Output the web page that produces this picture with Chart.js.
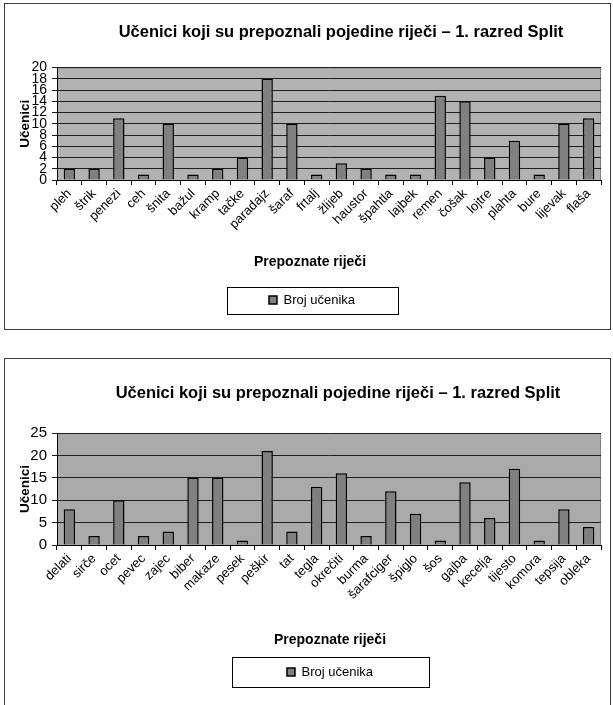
<!DOCTYPE html>
<html>
<head>
<meta charset="utf-8">
<script src="https://cdn.jsdelivr.net/npm/chart.js@4.4.1/dist/chart.umd.min.js"></script>
<style>
  html, body { margin: 0; padding: 0; background: #fff; }
  body { width: 613px; height: 705px; position: relative; overflow: hidden; }
  .frame { position: absolute; left: 4px; width: 607px; border: 1px solid #3c3c3c; box-sizing: border-box; background: #fff; }
  #f1 { top: 3px; height: 327px; }
  #f2 { top: 358px; height: 360px; }
  .frame canvas { display: block; }
</style>
</head>
<body>
<div class="frame" id="f1"><canvas id="c1" width="605" height="325"></canvas></div>
<div class="frame" id="f2"><canvas id="c2" width="605" height="346"></canvas></div>
<script>
// Heading shared by both charts
const chartTitle = 'Učenici koji su prepoznali pojedine riječi – 1. razred Split';
const xAxisTitle = 'Prepoznate riječi';
const yAxisTitle = 'Učenici';
const seriesName = 'Broj učenika';

// First group of words and how many pupils recognised each
const words1 = ['pleh', 'štrik', 'penezi', 'ceh', 'šnita', 'bažul', 'kramp', 'tačke', 'paradajz', 'šaraf', 'frtalj',
  'žlijeb', 'haustor', 'špahtla', 'lajbek', 'remen', 'čošak', 'lojtre', 'plahta', 'bure', 'lijevak', 'flaša'];
const counts1 = [2, 2, 11, 1, 10, 1, 2, 4, 18, 10, 1, 3, 2, 1, 1, 15, 14, 4, 7, 1, 10, 11];
const yMax1 = 20;
const yStep1 = 2;

// Second group of words
const words2 = ['delati', 'sirče', 'ocet', 'pevec', 'zajec', 'biber', 'makaze', 'pesek', 'peškir', 'tat', 'tegla',
  'okrečiti', 'burma', 'šarafciger', 'špiglo', 'šos', 'gajba', 'kecelja', 'tijesto', 'komora', 'tepsija', 'obleka'];
const counts2 = [8, 2, 10, 2, 3, 15, 15, 1, 21, 3, 13, 16, 2, 12, 7, 1, 14, 6, 17, 1, 8, 4];
const yMax2 = 25;
const yStep2 = 5;

const FONT = "'Liberation Sans', Arial, sans-serif";

// Grey plot panel behind the bars
const plotPanel = {
  id: 'plotPanel',
  beforeDraw(chart, args, opts) {
    const { ctx, chartArea: a } = chart;
    ctx.save();
    ctx.fillStyle = opts.fill;
    ctx.fillRect(a.left, a.top, a.right - a.left, a.bottom - a.top);
    ctx.strokeStyle = opts.edge;
    ctx.lineWidth = 1;
    ctx.strokeRect(a.left + 0.5, a.top + 0.5, a.right - a.left - 1, a.bottom - a.top);
    ctx.restore();
  }
};

// Horizontal placement of the title, axis caption and legend blocks
const blockCenters = {
  id: 'blockCenters',
  afterLayout(chart, args, opts) {
    const shift = (box, cx) => {
      if (!box || cx == null) return;
      const w = box.right - box.left;
      box.left = cx - w / 2;
      box.right = cx + w / 2;
    };
    shift(chart.titleBlock, opts.title);
    const subText = chart.options.plugins.subtitle.text;
    const sub = chart.boxes.find(b => b !== chart.titleBlock && b !== chart.legend && !b.axis &&
      b.options && b.options.text === subText);
    shift(sub, opts.subtitle);
    shift(chart.legend, opts.legend);
  }
};

// Thin frame around the legend entry
const legendFrame = {
  id: 'legendFrame',
  afterDraw(chart, args, opts) {
    const lg = chart.legend;
    if (!lg) return;
    const lo = lg.options.labels;
    const cx = (lg.left + lg.right) / 2;
    const cy = lg.top + lo.padding + lo.font.size / 2;
    const { ctx } = chart;
    ctx.save();
    ctx.strokeStyle = opts.color;
    ctx.lineWidth = 1;
    ctx.strokeRect(Math.round(cx - opts.w / 2) + 0.5, Math.round(cy - opts.h / 2) + 0.5, opts.w, opts.h);
    ctx.restore();
  }
};

function buildChart(id, words, counts, yMax, yStep, g) {
  return new Chart(document.getElementById(id), {
    type: 'bar',
    data: {
      labels: words,
      datasets: [{
        label: seriesName,
        data: counts,
        backgroundColor: '#808080',
        borderColor: '#000',
        borderWidth: 1.5,
        barPercentage: 0.46,
        categoryPercentage: 1
      }]
    },
    plugins: [plotPanel, blockCenters, legendFrame],
    options: {
      responsive: false,
      animation: false,
      devicePixelRatio: 1,
      layout: { padding: { left: 0, right: 9, top: 0, bottom: g.padBottom } },
      scales: {
        x: {
          grid: { display: true, drawOnChartArea: false, drawTicks: true, tickLength: 5, color: '#000', offset: true },
          border: { color: '#000', width: 1 },
          ticks: { autoSkip: false, maxRotation: 45, minRotation: 45, padding: 1, color: '#000',
            font: { family: FONT, size: 13 } },
          afterFit(s) { s.height = g.xHeight; }
        },
        y: {
          min: 0,
          max: yMax,
          ticks: { stepSize: yStep, autoSkip: false, padding: 5, color: '#000',
            font: { family: FONT, size: g.yTickSize, lineHeight: 1 } },
          grid: { color: '#1e1e1e', lineWidth: 1, tickLength: 5, drawTicks: true },
          border: { color: '#000', width: 1 },
          title: { display: true, text: yAxisTitle, color: '#000',
            font: { family: FONT, size: 13.5, weight: 'bold', lineHeight: 1.2 }, padding: { top: 12.5, bottom: 0 } },
          afterFit(s) { s.width = 52; }
        }
      },
      plugins: {
        tooltip: { enabled: false },
        title: {
          display: true, text: chartTitle, color: '#000',
          font: { family: FONT, size: 16.5, weight: 'bold', lineHeight: 1.2 },
          padding: { top: g.titleTop, bottom: g.titleBottom }
        },
        subtitle: {
          display: true, position: 'bottom', weight: 500, text: xAxisTitle, color: '#000',
          font: { family: FONT, size: 14, weight: 'bold', lineHeight: 1.2 },
          padding: { top: g.subTop, bottom: g.subBottom }
        },
        legend: {
          display: true, position: 'bottom', weight: 1000,
          labels: { boxWidth: 8, boxHeight: 8, padding: 10, color: '#000', font: { family: FONT, size: 13 } }
        },
        plotPanel: { fill: g.panel, edge: '#808080' },
        blockCenters: { title: g.titleX, subtitle: g.subX, legend: g.legendX },
        legendFrame: { w: g.frameW, h: g.frameH, color: '#000' }
      }
    }
  });
}

buildChart('c1', words1, counts1, yMax1, yStep1, {
  padBottom: 12.5, xHeight: 58, yTickSize: 14, titleTop: 18.1, titleBottom: 25.6, subTop: 15.6, subBottom: 13.1,
  panel: '#b2b2b2', titleX: 336, subX: 305, legendX: 307, frameW: 171, frameH: 27
});
buildChart('c2', words2, counts2, yMax2, yStep2, {
  padBottom: 16.5, xHeight: 62, yTickSize: 15, titleTop: 24.1, titleBottom: 30.1, subTop: 24.6, subBottom: 7.1,
  panel: '#aaaaaa', titleX: 333, subX: 325, legendX: 325, frameW: 197, frameH: 30
});
</script>
</body>
</html>
